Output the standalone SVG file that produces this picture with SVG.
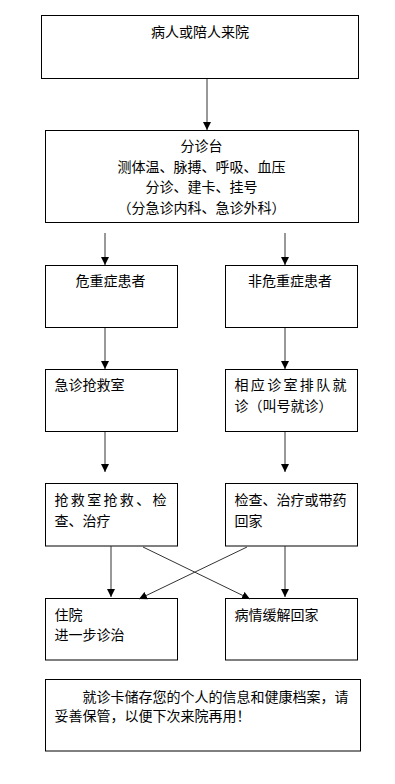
<svg xmlns="http://www.w3.org/2000/svg" width="395" height="784" viewBox="0 0 395 784">
<style>
.box{fill:#fff;stroke:#000;stroke-width:1}
text{font-family:"Noto Sans CJK SC","Noto Sans CJK TC",sans-serif;font-size:14px;fill:#000}
.c{text-anchor:middle}
.conn line{stroke:#333;stroke-width:1;fill:none}
</style>
<defs>
<marker id="ah" markerUnits="userSpaceOnUse" markerWidth="8" markerHeight="9" refX="8" refY="4" orient="auto" viewBox="0 0 8 8">
<path d="M0,0 L8,4 L0,8 z" fill="#000"/>
</marker>
</defs>
<rect width="395" height="784" fill="#fff"/>
<g id="n1"><rect class="box" x="41.5" y="15.5" width="317" height="63"/><text class="c" x="200" y="37">病人或陪人来院</text></g>
<g id="n2"><rect class="box" x="45.5" y="130.5" width="313" height="92"/>
<text class="c" x="201.5" y="151">分诊台</text>
<text class="c" x="201.5" y="171.5">测体温、脉搏、呼吸、血压</text>
<text class="c" x="201.5" y="192">分诊、建卡、挂号</text>
<text class="c" x="201.5" y="212.5">（分急诊内科、急诊外科）</text></g>
<g id="n3"><rect class="box" x="45.5" y="265.5" width="132" height="62"/><text class="c" x="110.5" y="286">危重症患者</text></g>
<g id="n4"><rect class="box" x="225.5" y="265.5" width="132" height="62"/><text class="c" x="290" y="286">非危重症患者</text></g>
<g id="n5"><rect class="box" x="45.5" y="369.5" width="132" height="62"/><text x="54.5" y="390">急诊抢救室</text></g>
<g id="n6"><rect class="box" x="225.5" y="369.5" width="132" height="62"/><text x="234.5" y="390" textLength="112" lengthAdjust="spacing">相应诊室排队就</text><text x="234.5" y="410.5">诊（叫号就诊）</text></g>
<g id="n7"><rect class="box" x="45.5" y="483.5" width="132" height="62.5"/><text x="54.5" y="505" textLength="112" lengthAdjust="spacing">抢救室抢救、检</text><text x="54.5" y="526">查、治疗</text></g>
<g id="n8"><rect class="box" x="225.5" y="483.5" width="132" height="62.5"/><text x="234.5" y="505">检查、治疗或带药</text><text x="234.5" y="526">回家</text></g>
<g id="n9"><rect class="box" x="45.5" y="598.5" width="132" height="61.5"/><text x="54.5" y="620">住院</text><text x="54.5" y="640">进一步诊治</text></g>
<g id="n10"><rect class="box" x="225.5" y="598.5" width="132" height="61.5"/><text x="234.5" y="620">病情缓解回家</text></g>
<g id="n11"><rect class="box" x="45.5" y="679.5" width="315" height="71.5"/><text x="82.5" y="701.5">就诊卡储存您的个人的信息和健康档案，请</text><text x="54.5" y="720.5">妥善保管，以便下次来院再用！</text></g>
<g class="conn" id="connectors">
<line x1="207" y1="79" x2="207" y2="130" marker-end="url(#ah)"/>
<line x1="105" y1="233" x2="105" y2="265" marker-end="url(#ah)"/>
<line x1="285" y1="233" x2="285" y2="265" marker-end="url(#ah)"/>
<line x1="105" y1="328" x2="105" y2="369" marker-end="url(#ah)"/>
<line x1="285" y1="328" x2="285" y2="369" marker-end="url(#ah)"/>
<line x1="105" y1="432" x2="105" y2="472" marker-end="url(#ah)"/>
<line x1="285" y1="432" x2="285" y2="472" marker-end="url(#ah)"/>
<line x1="111" y1="546" x2="111" y2="597" marker-end="url(#ah)"/>
<line x1="285" y1="546" x2="285" y2="597" marker-end="url(#ah)"/>
<line x1="143" y1="547" x2="250" y2="599" marker-end="url(#ah)"/>
<line x1="247" y1="547" x2="139" y2="599" marker-end="url(#ah)"/>
</g>
</svg>
